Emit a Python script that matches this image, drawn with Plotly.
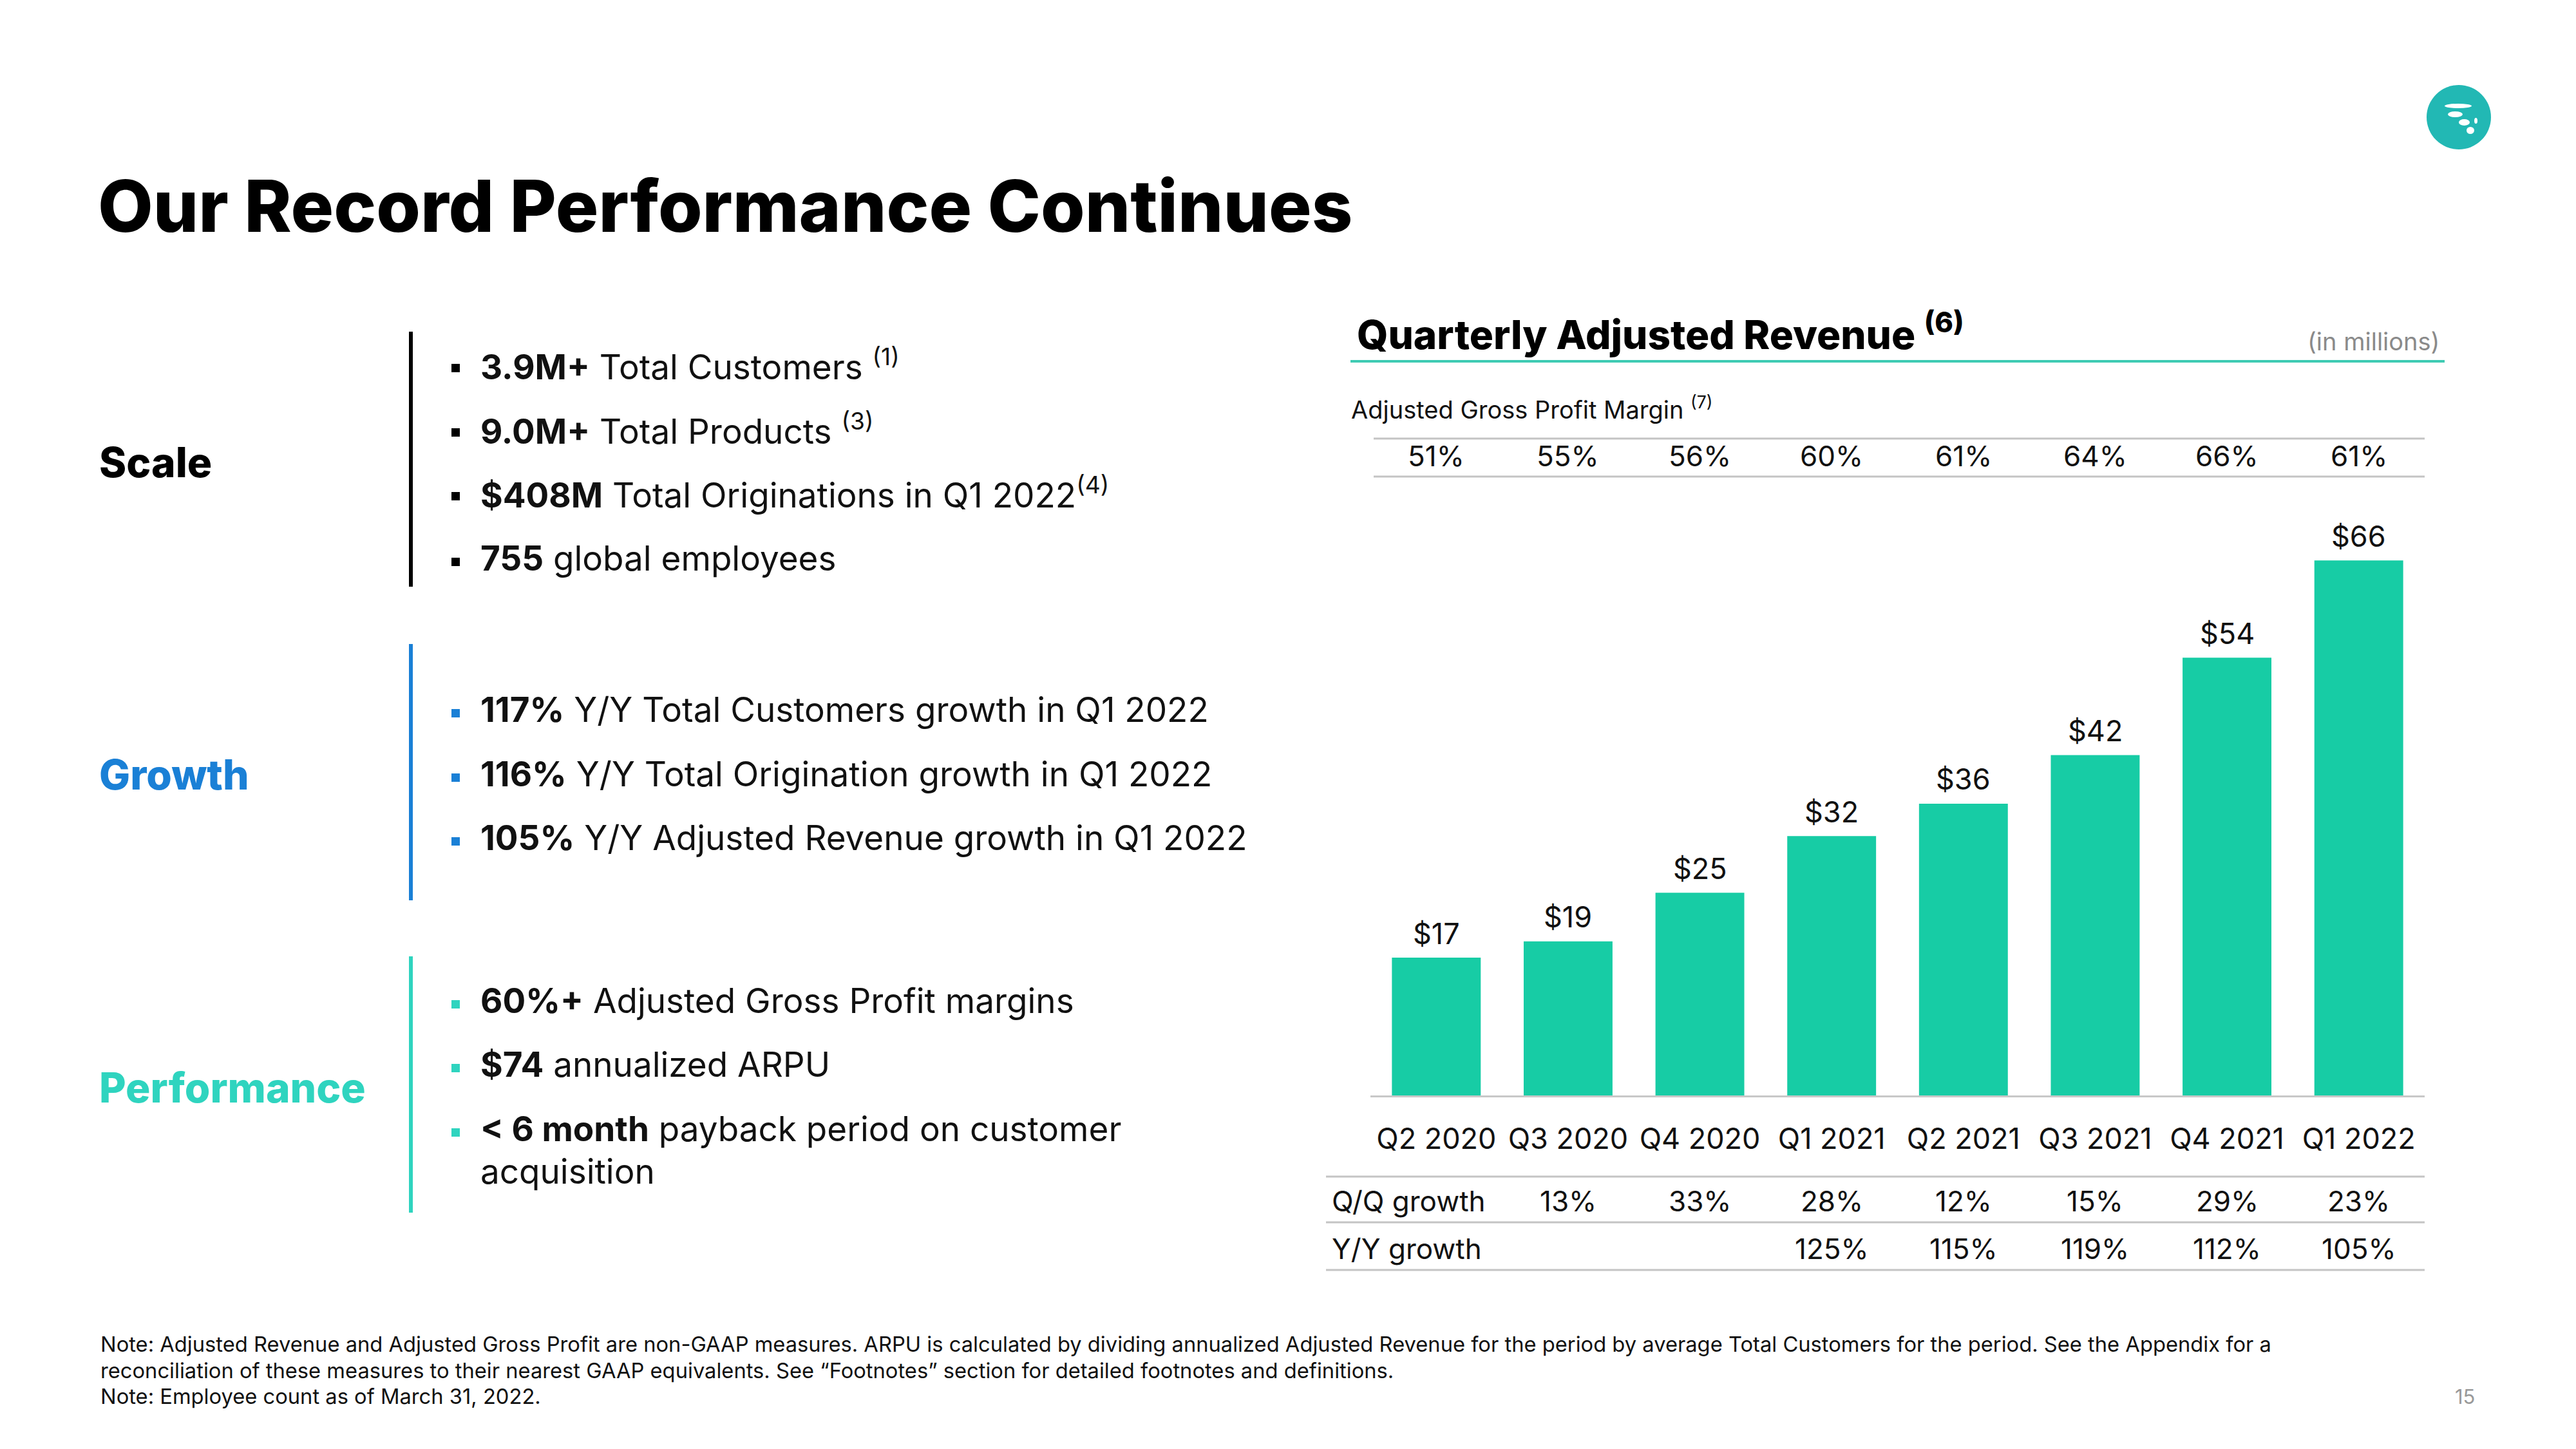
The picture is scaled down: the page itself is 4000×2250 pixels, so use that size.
import plotly.graph_objects as go

# ---------------- data ----------------
quarters = ["Q2 2020", "Q3 2020", "Q4 2020", "Q1 2021", "Q2 2021", "Q3 2021", "Q4 2021", "Q1 2022"]
revenue = [17, 19, 25, 32, 36, 42, 54, 66]
gross_margin = ["51%", "55%", "56%", "60%", "61%", "64%", "66%", "61%"]
qq_growth = ["", "13%", "33%", "28%", "12%", "15%", "29%", "23%"]
yy_growth = ["", "", "", "125%", "115%", "119%", "112%", "105%"]

scale_items = ["<b>3.9M+</b> Total Customers <sup>(1)</sup>",
               "<b>9.0M+</b> Total Products <sup>(3)</sup>",
               "<b>$408M</b> Total Originations in Q1 2022<sup>(4)</sup>",
               "<b>755</b> global employees"]
growth_items = ["<b>117%</b> Y/Y Total Customers growth in Q1 2022",
                "<b>116%</b> Y/Y Total Origination growth in Q1 2022",
                "<b>105%</b> Y/Y Adjusted Revenue growth in Q1 2022"]
perf_items = ["<b>60%+</b> Adjusted Gross Profit margins",
              "<b>$74</b> annualized ARPU",
              "<b>&lt; 6 month</b> payback period on customer",
              "acquisition"]

W, H = 4000, 2250
OFF = 8  # page body margin
FONT = "Inter"
BLACK = "#000000"
BLUE = "#1a80d6"
TEAL = "#2fd4bf"
GRAY_LINE = "#c4c4c4"


def X(px):
    return (px - OFF) / W


def Y(py):
    return 1 - (py - OFF) / H


fig = go.Figure()

fig.add_trace(go.Bar(
    x=quarters, y=revenue,
    marker=dict(color="#17cca5", line=dict(width=0)),
    hoverinfo="skip",
))

annotations = []
shapes = []

# value labels above bars
for q, v in zip(quarters, revenue):
    annotations.append(dict(x=q, y=v, xref="x", yref="y", xanchor="center", yanchor="middle",
                            yshift=38, text=f"${v}", showarrow=False,
                            font=dict(family=FONT, size=45, color="#111111")))

# Title
annotations.append(dict(x=X(150), y=Y(319), xref="paper", yref="paper", xanchor="left", yanchor="middle",
                        text="Our Record Performance Continues", showarrow=False,
                        font=dict(family=FONT, size=111, color=BLACK, weight=800)))

# Left sections
sections = [
    ("Scale", BLACK, 717, (515, 911), scale_items, [566, 666, 765, 867], [True, True, True, True]),
    ("Growth", BLUE, 1202, (1000, 1398), growth_items, [1102, 1202, 1301], [True, True, True]),
    ("Performance", TEAL, 1688, (1485, 1883), perf_items, [1554, 1653, 1753, 1819], [True, True, True, False]),
]
for label, col, ly, (l0, l1), items, ys, bullets in sections:
    annotations.append(dict(x=X(152), y=Y(ly), xref="paper", yref="paper", xanchor="left", yanchor="middle",
                            text=label, showarrow=False,
                            font=dict(family=FONT, size=64, color=col, weight=800)))
    shapes.append(dict(type="line", xref="paper", yref="paper", x0=X(638), x1=X(638), y0=Y(l0), y1=Y(l1),
                       line=dict(color=col, width=6)))
    for txt, yy, b in zip(items, ys, bullets):
        annotations.append(dict(x=X(744), y=Y(yy), xref="paper", yref="paper", xanchor="left", yanchor="middle",
                                text=txt, showarrow=False,
                                font=dict(family=FONT, size=53, color="#111111")))
        if b:
            shapes.append(dict(type="rect", xref="paper", yref="paper", x0=X(701), x1=X(714),
                               y0=Y(yy + 12), y1=Y(yy - 1), fillcolor=col, line=dict(width=0)))

# Chart header
annotations.append(dict(x=X(2105), y=Y(515), xref="paper", yref="paper", xanchor="left", yanchor="middle",
                        text="Quarterly Adjusted Revenue <sup>(6)</sup>", showarrow=False,
                        font=dict(family=FONT, size=62, color=BLACK, weight=800)))
annotations.append(dict(x=X(3790), y=Y(530), xref="paper", yref="paper", xanchor="right", yanchor="middle",
                        text="(in millions)", showarrow=False,
                        font=dict(family=FONT, size=38, color="#8a8a8a")))
shapes.append(dict(type="line", xref="paper", yref="paper", x0=X(2097), x1=X(3796), y0=Y(561), y1=Y(561),
                   line=dict(color="#3fcbb3", width=4)))

annotations.append(dict(x=X(2096), y=Y(633), xref="paper", yref="paper", xanchor="left", yanchor="middle",
                        text="Adjusted Gross Profit Margin <sup>(7)</sup>", showarrow=False,
                        font=dict(family=FONT, size=38, color="#111111")))
for yy in (681, 740):
    shapes.append(dict(type="line", xref="paper", yref="paper", x0=X(2133), x1=X(3765), y0=Y(yy), y1=Y(yy),
                       line=dict(color=GRAY_LINE, width=3)))
for q, m in zip(quarters, gross_margin):
    annotations.append(dict(x=q, y=Y(708), xref="x", yref="paper", xanchor="center", yanchor="middle",
                            text=m, showarrow=False, font=dict(family=FONT, size=44, color="#111111")))

# Growth table
for yy in (1827, 1898, 1972):
    shapes.append(dict(type="line", xref="paper", yref="paper", x0=X(2059), x1=X(3765), y0=Y(yy), y1=Y(yy),
                       line=dict(color=GRAY_LINE, width=3)))
annotations.append(dict(x=X(2066), y=Y(1865), xref="paper", yref="paper", xanchor="left", yanchor="middle",
                        text="Q/Q growth", showarrow=False, font=dict(family=FONT, size=44, color="#111111")))
annotations.append(dict(x=X(2066), y=Y(1939), xref="paper", yref="paper", xanchor="left", yanchor="middle",
                        text="Y/Y growth", showarrow=False, font=dict(family=FONT, size=44, color="#111111")))
for q, a, b in zip(quarters, qq_growth, yy_growth):
    if a:
        annotations.append(dict(x=q, y=Y(1865), xref="x", yref="paper", xanchor="center", yanchor="middle",
                                text=a, showarrow=False, font=dict(family=FONT, size=44, color="#111111")))
    if b:
        annotations.append(dict(x=q, y=Y(1939), xref="x", yref="paper", xanchor="center", yanchor="middle",
                                text=b, showarrow=False, font=dict(family=FONT, size=44, color="#111111")))

# Footnotes
foot = [
    "Note: Adjusted Revenue and Adjusted Gross Profit are non-GAAP measures. ARPU is calculated by dividing annualized Adjusted Revenue for the period by average Total Customers for the period. See the Appendix for a",
    "reconciliation of these measures to their nearest GAAP equivalents. See \u201cFootnotes\u201d section for detailed footnotes and definitions.",
    "Note: Employee count as of March 31, 2022.",
]
for txt, yy in zip(foot, (2087, 2128, 2168)):
    annotations.append(dict(x=X(154), y=Y(yy), xref="paper", yref="paper", xanchor="left", yanchor="middle",
                            text=txt, showarrow=False, font=dict(family=FONT, size=32.7, color="#111111")))
annotations.append(dict(x=X(3845), y=Y(2168), xref="paper", yref="paper", xanchor="right", yanchor="middle",
                        text="15", showarrow=False, font=dict(family=FONT, size=31, color="#999999")))

# Logo (decorative)
shapes.append(dict(type="circle", xref="paper", yref="paper", x0=X(3768), x1=X(3868), y0=Y(132), y1=Y(232),
                   fillcolor="#22b8b4", line=dict(width=0)))
for (a, b, c, d) in [(3796, 3838, 161, 168), (3801, 3824, 173, 182), (3818, 3835, 185, 195),
                     (3830, 3842, 197, 208), (3842, 3847, 183, 192)]:
    shapes.append(dict(type="circle", xref="paper", yref="paper", x0=X(a), x1=X(b), y0=Y(c), y1=Y(d),
                       fillcolor="white", line=dict(width=0)))

fig.update_layout(
    width=W, height=H,
    margin=dict(l=0, r=0, t=0, b=0),
    paper_bgcolor="white", plot_bgcolor="white",
    showlegend=False,
    bargap=0.326,
    xaxis=dict(domain=[X(2128), X(3765)], range=[-0.5, 7.5], showgrid=False, zeroline=False,
               showline=True, linecolor="#c8c8c8", linewidth=3,
               ticks="", ticklabelstandoff=26,
               tickfont=dict(family=FONT, size=45, color="#111111")),
    yaxis=dict(domain=[Y(1701), Y(820)], range=[0, 70], visible=False),
    annotations=annotations,
    shapes=shapes,
)

fig.write_html("out.html")
